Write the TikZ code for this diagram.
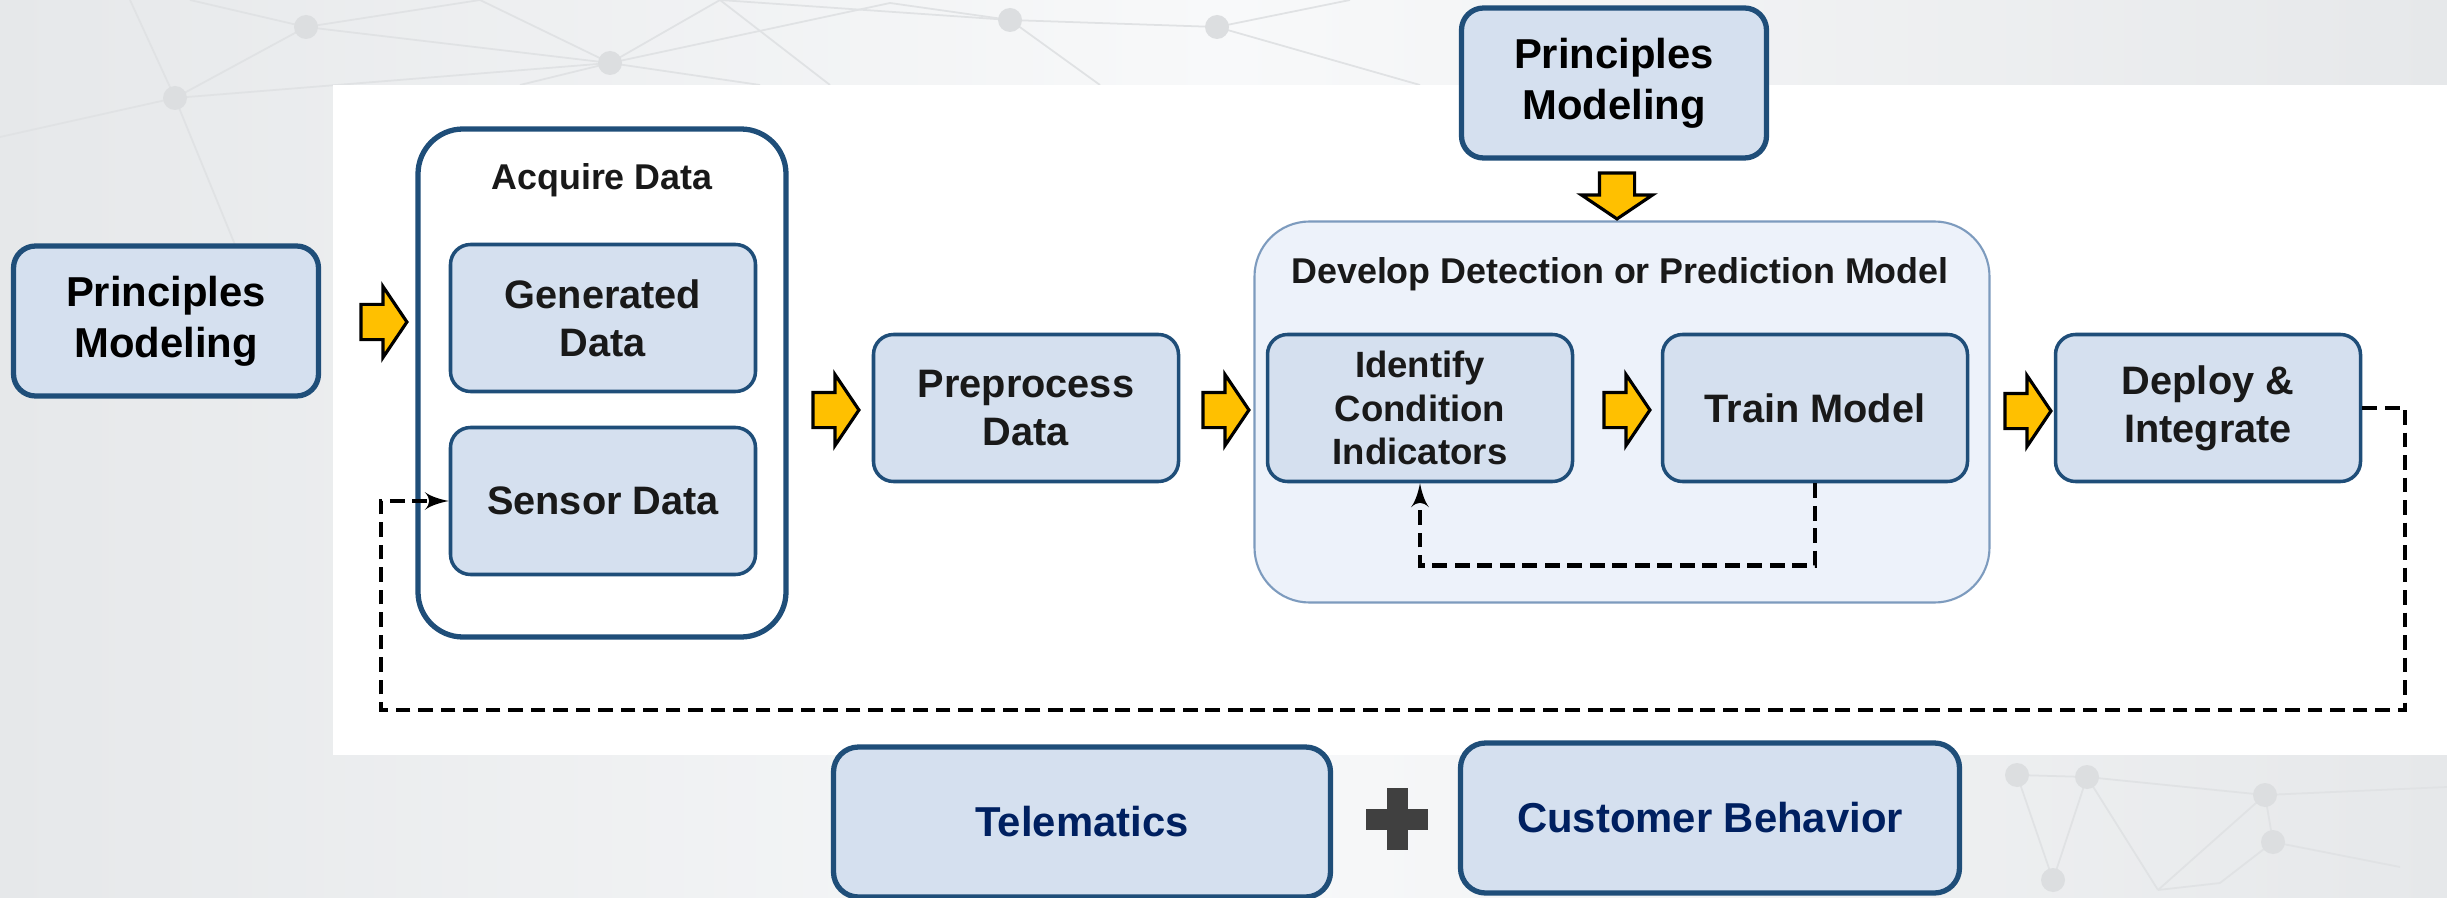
\documentclass[tikz,border=0pt]{standalone}
\usepackage{fontspec}
\setmainfont{Liberation Sans}
\usepackage{tikz}
\usetikzlibrary{shapes,arrows,positioning,calc}
\definecolor{boxfill}{HTML}{D5E0EF}
\definecolor{boxline}{HTML}{1F4E79}
\definecolor{devfill}{HTML}{EDF2FA}
\definecolor{devline}{HTML}{7D9BBE}
\definecolor{flowyellow}{HTML}{FFC000}
\definecolor{navytext}{HTML}{002060}
\definecolor{bgside}{HTML}{E6E8EA}
\definecolor{bgmid}{HTML}{F8F9FA}
\definecolor{netline}{HTML}{E0E2E4}
\definecolor{netdot}{HTML}{DCDEE0}
\definecolor{plusgray}{HTML}{404040}
\tikzset{
pmblock/.style = {draw=boxline, line width=1.5pt, fill=boxfill, rectangle, rounded corners=0.22cm, align=center, minimum width=3.05cm, minimum height=1.5cm, font=\fontsize{11.9}{14.6}\selectfont\bfseries},
block/.style = {draw=boxline, line width=1pt, fill=boxfill, rectangle, rounded corners=0.2cm, align=center, minimum width=3.05cm, minimum height=1.47cm, text=black!90, font=\fontsize{11.3}{13.6}\selectfont\bfseries},
groupbox/.style = {rectangle, align=center, inner sep=0pt},
grouptitle/.style = {font=\fontsize{10.2}{12}\selectfont\bfseries, text=black!90},
flow/.style = {single arrow, draw=black, fill=flowyellow, line width=0.9pt, inner xsep=0pt, inner ysep=0.16cm, single arrow head extend=0.18cm, single arrow tip angle=112, minimum height=0.46cm},
loopline/.style = {line width=1.35pt, dash pattern=on 4.2pt off 2.2pt},
netdotstyle/.style = {fill=netdot, circle, inner sep=0pt, minimum size=0.24cm},
}
\begin{document}
\begin{tikzpicture}[>=latex']
        \useasboundingbox (0,0) rectangle (24.47,8.97);
        \clip (0,0) rectangle (24.47,8.97);
        %background
        \shade[left color=bgside, right color=bgside, middle color=bgmid] (0,0) rectangle (24.47,8.97);
        %network pattern, top left
        \coordinate (t1) at (1.30,8.97);
        \coordinate (t2) at (1.90,8.97);
        \coordinate (t3) at (3.06,8.70);
        \coordinate (t4) at (1.75,7.99);
        \coordinate (t5) at (6.10,8.34);
        \coordinate (t6) at (8.90,8.94);
        \coordinate (t7) at (10.10,8.77);
        \coordinate (t8) at (12.17,8.70);
        \coordinate (t9) at (4.80,8.97);
        \coordinate (t10) at (7.20,8.97);
        \foreach \a/\b in {t1/t4,t2/t3,t3/t4,t3/t5,t4/t5,t3/t9,t5/t9,t5/t10,t5/t6,t6/t7,t7/t10,t7/t8}
            \draw[netline, line width=0.5pt] (\a) -- (\b);
        \draw[netline, line width=0.5pt] (t8) -- (13.5,8.97);
        \draw[netline, line width=0.5pt] (t8) -- (14.2,8.12);
        \draw[netline, line width=0.5pt] (t5) -- (7.6,8.12);
        \draw[netline, line width=0.5pt] (t7) -- (11.0,8.12);
        \draw[netline, line width=0.5pt] (t4) -- (0,7.6);
        \draw[netline, line width=0.5pt] (t4) -- (2.4,6.4);
        \draw[netline, line width=0.5pt] (t5) -- (5.2,8.12);
        \draw[netline, line width=0.5pt] (t10) -- (8.3,8.12);
        \foreach \p in {t3,t4,t5,t7,t8}
            \node[netdotstyle] at (\p) {};
        %network pattern, bottom right
        \coordinate (b1) at (20.17,1.22);
        \coordinate (b2) at (20.87,1.20);
        \coordinate (b3) at (22.65,1.02);
        \coordinate (b4) at (22.73,0.55);
        \coordinate (b5) at (20.53,0.17);
        \coordinate (b6) at (21.58,0.07);
        \coordinate (b7) at (22.20,0.14);
        \coordinate (b8) at (24.47,1.10);
        \coordinate (b9) at (24.00,0.30);
        \foreach \a/\b in {b1/b2,b2/b3,b1/b5,b2/b5,b2/b6,b3/b4,b3/b6,b4/b7,b3/b8,b4/b9,b6/b7}
            \draw[netline, line width=0.5pt] (\a) -- (\b);
        \foreach \p in {b1,b2,b3,b4,b5}
            \node[netdotstyle] at (\p) {};
        %white panel
        \fill[white] (3.33,1.42) rectangle (24.47,8.12);

        %left input
        \node [pmblock] (pmleft) at (1.66,5.76) {Principles\\Modeling};
        \node [flow] (arrA) at (3.78,5.75) {};
        %acquire data
        \node [groupbox, draw=boxline, line width=1.5pt, fill=white, rounded corners=0.45cm, minimum width=3.68cm, minimum height=5.08cm] (acquire) at (6.02,5.14) {};
        \node [grouptitle] (acqtitle) at (6.02,7.17) {Acquire Data};
        \node [block] (generated) at (6.03,5.79) {Generated\\Data};
        \node [block] (sensor) at (6.03,3.96) {Sensor Data};
        \node [flow] (arrB) at (8.30,4.87) {};
        \node [block] (preprocess) at (10.26,4.89) {Preprocess\\Data};
        \node [flow] (arrC) at (12.20,4.87) {};
        %develop model
        \node [groupbox, draw=devline, line width=0.6pt, fill=devfill, rounded corners=0.55cm, minimum width=7.35cm, minimum height=3.81cm] (develop) at (16.22,4.85) {};
        \node [grouptitle] (devtitle) at (16.20,6.23) {Develop Detection or Prediction Model};
        \node [block, font=\fontsize{10.4}{12.5}\selectfont\bfseries] (identify) at (14.20,4.89) {Identify\\Condition\\Indicators};
        \node [flow] (arrD) at (16.21,4.87) {};
        \node [block, right of = identify, node distance=3.95cm] (train) {Train Model};
        %top input
        \node [pmblock] (pmtop) at (16.14,8.14) {Principles\\Modeling};
        \node [flow, rotate=-90] (arrTop) at (16.17,7.07) {};
        %deploy
        \node [flow] (arrE) at (20.22,4.86) {};
        \node [block] (deploy) at (22.08,4.89) {Deploy \&\\Integrate};

        %feedback loops
        \coordinate (loopright) at (24.05,1.87);
        \coordinate (loopleft) at (3.81,1.87);
        \draw [loopline, ->] (deploy.east) -| (loopright) -- (loopleft) |- (sensor.west);
        \draw [loopline, ->] (train.south) -- ++(0,-0.82) -| (identify.south);

        %bottom data sources
        \node [pmblock, rounded corners=0.25cm, minimum width=4.97cm, text=navytext] (telematics) at (10.82,0.75) {Telematics};
        \node [fill=plusgray, inner sep=0pt, minimum width=0.62cm, minimum height=0.21cm] (plush) at (13.97,0.78) {};
        \node [fill=plusgray, inner sep=0pt, minimum width=0.21cm, minimum height=0.62cm] (plusv) at (13.97,0.78) {};
        \node [pmblock, rounded corners=0.25cm, minimum width=4.99cm, text=navytext] (customer) at (17.10,0.79) {Customer Behavior};
\end{tikzpicture}
\end{document}
